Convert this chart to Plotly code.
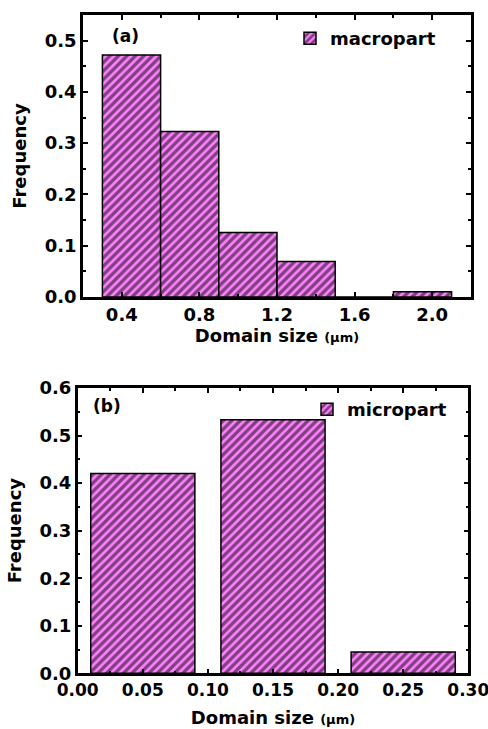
import plotly.graph_objects as go

# Domain-size histograms (bin centres, bin widths, relative frequencies)
macro_centers = [0.45, 0.75, 1.05, 1.35, 1.65, 1.95]
macro_width = 0.3
macro_freq = [0.472, 0.323, 0.126, 0.069, 0.0, 0.010]

micro_centers = [0.05, 0.15, 0.25]
micro_width = 0.08
micro_freq = [0.420, 0.533, 0.045]

macro_xticks = [0.4, 0.8, 1.2, 1.6, 2.0]
micro_xticks = [0.00, 0.05, 0.10, 0.15, 0.20, 0.25, 0.30]

FONT = "DejaVu Sans, Liberation Sans, Arial, sans-serif"
FILL = "#ff80ff"

hatch = dict(shape="/", bgcolor=FILL, fgcolor="black", size=6, solidity=0.55, fillmode="overlay")

fig = go.Figure()

fig.add_trace(go.Bar(
    x=macro_centers, y=macro_freq, width=[macro_width] * len(macro_centers),
    name="macropart", xaxis="x", yaxis="y", legend="legend",
    marker=dict(color=FILL, pattern=hatch, line=dict(color="black", width=1.5)),
))
fig.add_trace(go.Bar(
    x=micro_centers, y=micro_freq, width=[micro_width] * len(micro_centers),
    name="micropart", xaxis="x2", yaxis="y2", legend="legend2",
    marker=dict(color=FILL, pattern=hatch, line=dict(color="black", width=1.5)),
))

W, H = 488, 729


def px_x(a, b):
    return [a / W, b / W]


def px_y(top, bottom):
    return [1 - bottom / H, 1 - top / H]


def bold(size):
    return dict(family=FONT, size=size, color="black", weight="bold")


axis_common = dict(
    showline=True, linecolor="black", linewidth=2.5, mirror="allticks",
    ticks="inside", ticklen=5, tickwidth=2, tickcolor="black",
    showgrid=False, zeroline=False, automargin=False, ticklabeloverflow="allow",
)

minor_common = dict(ticks="inside", ticklen=3, tickwidth=2, tickcolor="black", showgrid=False)

size_title = "Domain size <span style='font-size:13px'>(μm)</span>"

fig.update_layout(
    width=W, height=H,
    margin=dict(l=0, r=0, t=0, b=0),
    paper_bgcolor="white", plot_bgcolor="white",
    showlegend=True,
    barmode="overlay",
    xaxis=dict(
        **axis_common, domain=px_x(83, 471), anchor="y", range=[0.2, 2.2],
        tickfont=bold(18),
        tickvals=macro_xticks, ticktext=[f"{v:.1f}" for v in macro_xticks],
        minor=dict(**minor_common, dtick=0.2, tick0=0.2),
        title=dict(text=size_title, font=bold(18), standoff=4),
    ),
    yaxis=dict(
        **axis_common, domain=px_y(15, 297), anchor="x", range=[0, 0.55],
        tickfont=bold(18), dtick=0.1, tickformat=".1f",
        minor=dict(**minor_common, dtick=0.05),
        title=dict(text="Frequency", font=bold(18), standoff=14),
    ),
    xaxis2=dict(
        **axis_common, domain=px_x(77.7, 468.3), anchor="y2", range=[0, 0.3],
        tickfont=bold(17),
        tickvals=micro_xticks, ticktext=[f"{v:.2f}" for v in micro_xticks],
        minor=dict(**minor_common, dtick=0.025),
        title=dict(text=size_title, font=bold(18), standoff=12),
    ),
    yaxis2=dict(
        **axis_common, domain=px_y(388, 673.3), anchor="x2", range=[0, 0.6],
        tickfont=bold(18), dtick=0.1, tickformat=".1f",
        minor=dict(**minor_common, dtick=0.05),
        title=dict(text="Frequency", font=bold(18), standoff=14),
    ),
    legend=dict(
        x=290 / W, y=1 - 20 / H, xanchor="left", yanchor="top",
        font=bold(18), bgcolor="rgba(0,0,0,0)", itemwidth=30, tracegroupgap=0,
    ),
    legend2=dict(
        x=307 / W, y=1 - 391 / H, xanchor="left", yanchor="top",
        font=bold(18), bgcolor="rgba(0,0,0,0)", itemwidth=30, tracegroupgap=0,
    ),
    annotations=[
        dict(text="(a)", x=110 / W, y=1 - 36 / H, xref="paper", yref="paper",
             xanchor="left", yanchor="middle", showarrow=False, font=bold(17)),
        dict(text="(b)", x=91 / W, y=1 - 406 / H, xref="paper", yref="paper",
             xanchor="left", yanchor="middle", showarrow=False, font=bold(17)),
    ],
)

fig.write_html("out.html")
